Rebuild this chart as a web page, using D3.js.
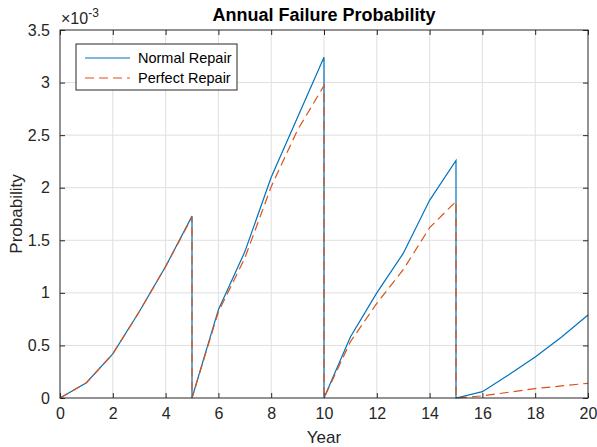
<!DOCTYPE html>
<html>
<head>
<meta charset="utf-8">
<script src="https://cdn.jsdelivr.net/npm/d3@7"></script>
<style>
  body { margin: 0; background: #fff; }
  svg { font-family: "Liberation Sans", Arial, sans-serif; }
</style>
</head>
<body>
<div id="chart"></div>
<script>
// years incl. the repeated repair years (drop to zero)
const years = [0, 1, 2, 3, 4, 5, 5, 6, 7, 8, 9, 10, 10, 11, 12, 13, 14, 15, 15, 16, 17, 18, 19, 20];
// values in units of 1e-3
const normalRepair = [0, 0.145, 0.42, 0.82, 1.25, 1.73, 0, 0.84, 1.39, 2.10, 2.67, 3.24, 0, 0.58, 1.0, 1.375, 1.88, 2.26, 0, 0.06, 0.22, 0.39, 0.58, 0.79];
const perfectRepair = [0, 0.145, 0.42, 0.82, 1.25, 1.72, 0, 0.82, 1.33, 2.01, 2.55, 2.97, 0, 0.535, 0.90, 1.22, 1.62, 1.87, 0, 0.02, 0.055, 0.09, 0.115, 0.14];
const xTicks = [0, 2, 4, 6, 8, 10, 12, 14, 16, 18, 20];
const yTicks = [0, 0.5, 1, 1.5, 2, 2.5, 3, 3.5];

const width = 597, height = 447;
const margin = {left: 60, right: 9, top: 30, bottom: 49};

const svg = d3.select("#chart").append("svg")
    .attr("width", width)
    .attr("height", height);

const x = d3.scaleLinear().domain([0, 20]).range([margin.left, width - margin.right]);
const y = d3.scaleLinear().domain([0, 3.5]).range([height - margin.bottom, margin.top]);

const axisColor = "#262626";

// grid
svg.append("g").selectAll("line")
    .data(xTicks.slice(1, -1))
    .enter().append("line")
    .attr("x1", d => x(d)).attr("x2", d => x(d))
    .attr("y1", y(0)).attr("y2", y(3.5))
    .attr("stroke", "#dfdfdf").attr("stroke-width", 1);
svg.append("g").selectAll("line")
    .data(yTicks.slice(1, -1))
    .enter().append("line")
    .attr("x1", x(0)).attr("x2", x(20))
    .attr("y1", d => y(d)).attr("y2", d => y(d))
    .attr("stroke", "#dfdfdf").attr("stroke-width", 1);

// axes (ticks inside, box all round)
const fmt = d3.format("");
function styleAxis(g) {
    g.selectAll("path").remove();
    g.selectAll("line").attr("stroke", axisColor);
    g.selectAll("text").attr("fill", axisColor).style("font-size", "16px");
}
svg.append("g")
    .attr("transform", `translate(0,${y(0)})`)
    .call(d3.axisBottom(x).tickValues(xTicks).tickFormat(fmt).tickSizeInner(-5).tickSizeOuter(0).tickPadding(10))
    .call(styleAxis);
svg.append("g")
    .attr("transform", `translate(0,${y(3.5)})`)
    .call(d3.axisTop(x).tickValues(xTicks).tickFormat("").tickSizeInner(-5).tickSizeOuter(0))
    .call(styleAxis);
svg.append("g")
    .attr("transform", `translate(${x(0)},0)`)
    .call(d3.axisLeft(y).tickValues(yTicks).tickFormat(fmt).tickSizeInner(-5).tickSizeOuter(0).tickPadding(10))
    .call(styleAxis);
svg.append("g")
    .attr("transform", `translate(${x(20)},0)`)
    .call(d3.axisRight(y).tickValues(yTicks).tickFormat("").tickSizeInner(-5).tickSizeOuter(0))
    .call(styleAxis);

// lines
const line = d3.line().x((d, i) => x(years[i])).y(d => y(d));
svg.append("path")
    .datum(normalRepair)
    .attr("d", line)
    .attr("fill", "none")
    .attr("stroke", "#0072BD")
    .attr("stroke-width", 1.2);
svg.append("path")
    .datum(perfectRepair)
    .attr("d", line)
    .attr("fill", "none")
    .attr("stroke", "#D95319")
    .attr("stroke-width", 1.2)
    .attr("stroke-dasharray", "9,5");

// box
svg.append("rect")
    .attr("x", x(0)).attr("y", y(3.5))
    .attr("width", x(20) - x(0)).attr("height", y(0) - y(3.5))
    .attr("fill", "none").attr("stroke", axisColor).attr("stroke-width", 1);

// exponent label
const expo = svg.append("text")
    .attr("x", x(0) + 1).attr("y", 24)
    .attr("fill", axisColor)
    .style("font-size", "16px");
expo.append("tspan").text("\u00d710");
expo.append("tspan").attr("dy", -7).style("font-size", "12px").text("-3");

// title and labels
svg.append("text")
    .attr("x", (x(0) + x(20)) / 2).attr("y", 21)
    .attr("text-anchor", "middle")
    .style("font-size", "18px").style("font-weight", "bold")
    .attr("fill", "#000")
    .text("Annual Failure Probability");
svg.append("text")
    .attr("x", (x(0) + x(20)) / 2).attr("y", 443)
    .attr("text-anchor", "middle")
    .style("font-size", "17px")
    .attr("fill", axisColor)
    .text("Year");
svg.append("text")
    .attr("transform", `translate(22,${(y(0) + y(3.5)) / 2}) rotate(-90)`)
    .attr("text-anchor", "middle")
    .style("font-size", "17px")
    .attr("fill", axisColor)
    .text("Probability");

// legend
const legend = svg.append("g").attr("transform", "translate(76,44)");
legend.append("rect")
    .attr("width", 161).attr("height", 46)
    .attr("fill", "#fff").attr("stroke", axisColor).attr("stroke-width", 1);
const items = [
    {name: "Normal Repair", color: "#0072BD", dash: null},
    {name: "Perfect Repair", color: "#D95319", dash: "9,5"}
];
items.forEach((it, i) => {
    const yy = 14 + i * 20;
    legend.append("line")
        .attr("x1", 9).attr("x2", 54)
        .attr("y1", yy).attr("y2", yy)
        .attr("stroke", it.color).attr("stroke-width", 1.2)
        .attr("stroke-dasharray", it.dash);
    legend.append("text")
        .attr("x", 62).attr("y", yy + 5)
        .style("font-size", "14.5px")
        .attr("fill", "#000")
        .text(it.name);
});
</script>
</body>
</html>
